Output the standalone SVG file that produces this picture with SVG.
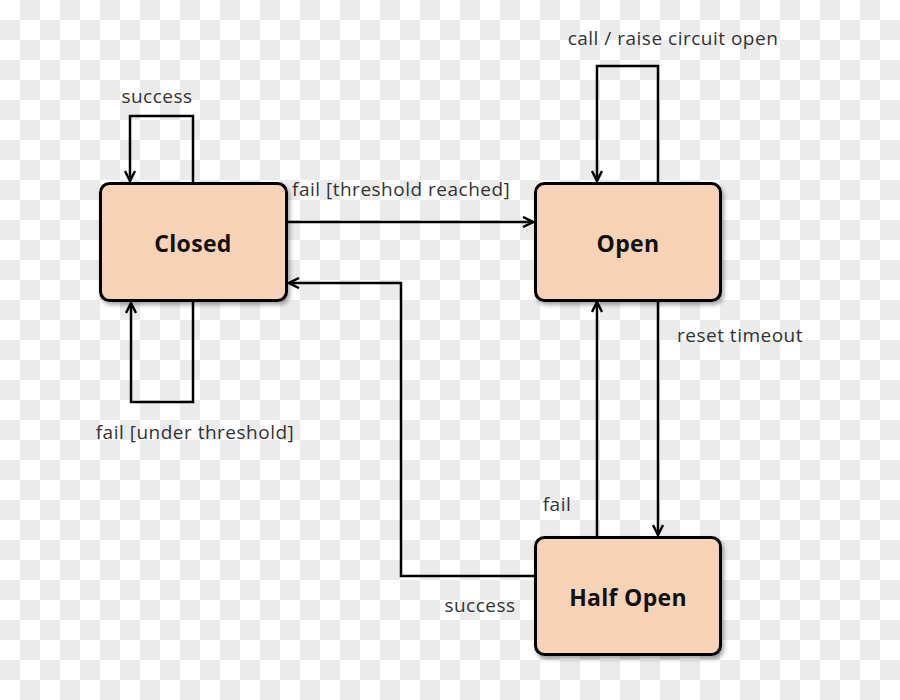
<svg xmlns="http://www.w3.org/2000/svg" width="900" height="700" viewBox="0 0 900 700">
<defs>
<pattern id="checker" width="40" height="40" patternUnits="userSpaceOnUse">
<rect width="40" height="40" fill="#ffffff"/>
<rect x="20" y="0" width="20" height="20" fill="#ebebeb"/>
<rect x="0" y="20" width="20" height="20" fill="#ebebeb"/>
</pattern>
<marker id="arrow" viewBox="0 0 12 12" refX="11" refY="6" markerWidth="12" markerHeight="12" markerUnits="userSpaceOnUse" orient="auto">
<path d="M1,1 L11,6 L1,11" fill="none" stroke="#000" stroke-width="2.5"/>
</marker>
<filter id="shadow" x="-10%" y="-10%" width="130%" height="130%">
<feDropShadow dx="2" dy="3" stdDeviation="2" flood-color="#000" flood-opacity="0.35"/>
</filter>
</defs>
<style>
.node rect { fill: #f6d3b6; stroke: #000; stroke-width: 3; }
.node text { font-family: "Open Sans", "DejaVu Sans", sans-serif; font-weight: bold; font-size: 23px; letter-spacing: 0.3px; fill: #111; text-anchor: middle; }
.conn path { fill: none; stroke: #000; stroke-width: 2.5; }
.lbl { font-family: "Open Sans", "DejaVu Sans", sans-serif; font-size: 19px; letter-spacing: 0.5px; fill: #333; }
</style>
<rect width="900" height="700" fill="url(#checker)"/>
<g id="connectors" class="conn">
<path d="M193,183 V116 H130 V181" marker-end="url(#arrow)"/>
<path d="M193,301 V402 H131 V303" marker-end="url(#arrow)"/>
<path d="M287,222 H533" marker-end="url(#arrow)"/>
<path d="M535,576 H401 V283 H289" marker-end="url(#arrow)"/>
<path d="M658,183 V66 H597 V181" marker-end="url(#arrow)"/>
<path d="M658,300 V535" marker-end="url(#arrow)"/>
<path d="M597,537 V302" marker-end="url(#arrow)"/>
</g>
<g id="labels" class="lbl">
<text x="157" y="103" text-anchor="middle">success</text>
<text x="292" y="196">fail [threshold reached]</text>
<text x="673" y="45" text-anchor="middle">call / raise circuit open</text>
<text x="677" y="342">reset timeout</text>
<text x="195" y="439" text-anchor="middle">fail [under threshold]</text>
<text x="557" y="511" text-anchor="middle">fail</text>
<text x="480" y="612" text-anchor="middle">success</text>
</g>
<g id="closed" class="node">
<rect x="100.5" y="183.5" width="186" height="117" rx="9" filter="url(#shadow)"/>
<text x="193" y="252">Closed</text>
</g>
<g id="open" class="node">
<rect x="535.5" y="183.5" width="185" height="117" rx="9" filter="url(#shadow)"/>
<text x="628" y="252">Open</text>
</g>
<g id="halfopen" class="node">
<rect x="535.5" y="537.5" width="185" height="117" rx="9" filter="url(#shadow)"/>
<text x="628" y="606">Half Open</text>
</g>
</svg>
